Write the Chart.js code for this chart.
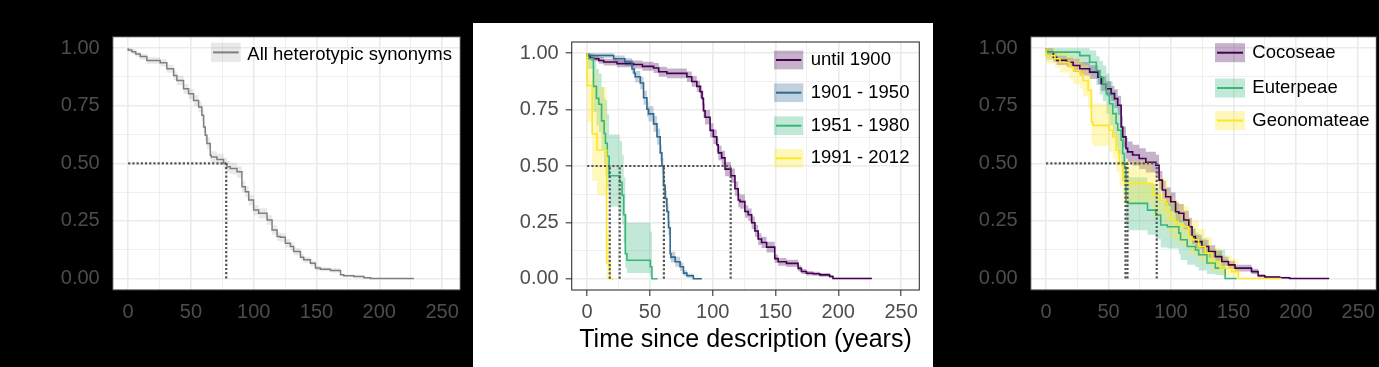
<!DOCTYPE html>
<html>
<head>
<meta charset="utf-8">
<script src="https://cdn.jsdelivr.net/npm/chart.js@4.4.1/dist/chart.umd.min.js"></script>
<style>
  html, body { margin: 0; padding: 0; background: #000; }
  body { width: 1379px; height: 367px; position: relative; overflow: hidden; }
  canvas { position: absolute; }
  #panelA { left: 0; top: 0; }
  #panelB { left: 473px; top: 23px; background: #fff; }
  #panelC { left: 935px; top: 0; }
</style>
</head>
<body>
<canvas id="panelA" width="470" height="367"></canvas>
<canvas id="panelB" width="460" height="344"></canvas>
<canvas id="panelC" width="444" height="367"></canvas>
<script>
Chart.defaults.font.family = "'Liberation Sans', Arial, sans-serif";

// axes
const xTicks = [0, 50, 100, 150, 200, 250];
const xMinor = [25, 75, 125, 175, 225];
const yTicks = [0, 0.25, 0.5, 0.75, 1];
const yMinor = [0.125, 0.375, 0.625, 0.875];
const xTitle = 'Time since description (years)';

// panel A - all synonyms
const allLabel = 'All heterotypic synonyms';
const allTime = [0, 3, 6, 9.6, 14.9, 25.5, 30.8, 36.2, 38.8, 44.1, 48.1, 52.1, 56.1, 58.7, 60.1, 61.4, 62.7, 65.4, 66.2, 70.7, 76.0, 78.7, 81.3, 86.7, 90.6, 93.3, 96.0, 99.9, 103.9, 110.6, 114.6, 118.6, 121.2, 125.2, 129.2, 131.8, 137.2, 139.8, 145.1, 149.1, 153.1, 161.1, 169.1, 171.7, 179.7, 187.7, 193.0, 201.0, 227.5];
const allSurv = [1, 0.992, 0.985, 0.975, 0.964, 0.947, 0.937, 0.911, 0.882, 0.860, 0.824, 0.802, 0.773, 0.745, 0.709, 0.658, 0.622, 0.586, 0.535, 0.528, 0.517, 0.499, 0.485, 0.478, 0.463, 0.398, 0.377, 0.341, 0.297, 0.283, 0.254, 0.211, 0.182, 0.179, 0.153, 0.139, 0.117, 0.092, 0.081, 0.066, 0.045, 0.040, 0.035, 0.016, 0.012, 0.009, 0.003, 0, 0];
const allLow = [1, 0.984, 0.975, 0.963, 0.950, 0.932, 0.921, 0.893, 0.862, 0.839, 0.802, 0.779, 0.750, 0.721, 0.684, 0.633, 0.597, 0.561, 0.510, 0.503, 0.492, 0.474, 0.460, 0.453, 0.438, 0.374, 0.353, 0.318, 0.275, 0.261, 0.233, 0.191, 0.163, 0.160, 0.135, 0.122, 0.101, 0.078, 0.068, 0.054, 0.035, 0.031, 0.026, 0.010, 0.007, 0.004, 0, 0, 0];
const allHigh = [1, 1, 0.995, 0.985, 0.976, 0.961, 0.952, 0.928, 0.901, 0.880, 0.845, 0.824, 0.796, 0.768, 0.733, 0.683, 0.647, 0.611, 0.560, 0.553, 0.542, 0.524, 0.510, 0.503, 0.488, 0.422, 0.401, 0.364, 0.319, 0.305, 0.275, 0.231, 0.201, 0.198, 0.171, 0.156, 0.133, 0.106, 0.094, 0.078, 0.055, 0.049, 0.044, 0.022, 0.017, 0.014, 0.006, 0, 0];
const allMedians = [78.1];

// panel B - by description period
const periodLabels = ['until 1900', '1901 - 1950', '1951 - 1980', '1991 - 2012'];
const p1Time = [0, 2.5, 5, 9.3, 13.2, 23.8, 37, 44, 52.9, 57, 63.5, 79.4, 83.3, 87.3, 89.9, 91.5, 92.6, 93.9, 97.9, 100.5, 103.2, 104.4, 107.1, 109.8, 114.5, 117.7, 120.3, 121.7, 125.6, 128.3, 131, 133.6, 136.2, 138.9, 142.9, 149.4, 152.1, 158.7, 168, 170.6, 174.6, 179.9, 185.2, 193.1, 195.8, 199.7, 226.7];
const p1Surv = [1, 0.990, 0.978, 0.976, 0.968, 0.961, 0.954, 0.950, 0.942, 0.935, 0.918, 0.911, 0.896, 0.875, 0.853, 0.830, 0.800, 0.745, 0.716, 0.658, 0.630, 0.594, 0.558, 0.536, 0.486, 0.457, 0.399, 0.349, 0.342, 0.298, 0.284, 0.248, 0.212, 0.176, 0.161, 0.140, 0.089, 0.075, 0.068, 0.046, 0.032, 0.024, 0.022, 0.017, 0.010, 0.001, 0.001];
const p1Low = [1, 0.980, 0.966, 0.963, 0.954, 0.946, 0.938, 0.932, 0.922, 0.913, 0.896, 0.889, 0.873, 0.851, 0.828, 0.801, 0.769, 0.713, 0.684, 0.626, 0.598, 0.562, 0.526, 0.504, 0.454, 0.425, 0.367, 0.317, 0.310, 0.270, 0.256, 0.220, 0.185, 0.150, 0.136, 0.116, 0.071, 0.058, 0.052, 0.033, 0.021, 0.014, 0.013, 0.009, 0.004, 0, 0];
const p1High = [1, 1, 0.990, 0.989, 0.982, 0.976, 0.970, 0.968, 0.962, 0.957, 0.940, 0.933, 0.919, 0.899, 0.878, 0.859, 0.831, 0.777, 0.748, 0.690, 0.662, 0.626, 0.590, 0.568, 0.518, 0.489, 0.431, 0.381, 0.374, 0.326, 0.312, 0.276, 0.239, 0.202, 0.186, 0.164, 0.107, 0.092, 0.084, 0.059, 0.043, 0.034, 0.031, 0.025, 0.016, 0.004, 0.004];

const p2Time = [0, 21.1, 30, 35.7, 37.5, 38.3, 42.3, 44.9, 47.6, 48.9, 52.9, 55.6, 58.2, 59.5, 60.8, 62.1, 63.5, 64.8, 66.1, 66.7, 70.1, 74.0, 76.7, 79.4, 84.6, 91.3];
const p2Surv = [1, 0.990, 0.976, 0.961, 0.930, 0.911, 0.896, 0.868, 0.803, 0.752, 0.731, 0.687, 0.630, 0.558, 0.500, 0.414, 0.356, 0.298, 0.226, 0.111, 0.096, 0.075, 0.053, 0.025, 0.013, 0];
const p2Low = [1, 0.980, 0.962, 0.944, 0.909, 0.888, 0.871, 0.840, 0.772, 0.719, 0.697, 0.652, 0.594, 0.522, 0.464, 0.378, 0.321, 0.264, 0.194, 0.085, 0.072, 0.053, 0.034, 0.012, 0.004, 0];
const p2High = [1, 1, 0.990, 0.978, 0.951, 0.934, 0.921, 0.896, 0.834, 0.785, 0.765, 0.722, 0.666, 0.594, 0.536, 0.450, 0.391, 0.332, 0.258, 0.137, 0.120, 0.097, 0.072, 0.038, 0.022, 0];

const p3Time = [0, 5, 7.4, 9.3, 11.5, 13.5, 14.6, 16, 17.5, 25.9, 27.8, 29.1, 30.4, 31.7, 50.3, 51.6, 56.1];
const p3Surv = [1, 0.976, 0.853, 0.80, 0.774, 0.70, 0.644, 0.601, 0.543, 0.457, 0.428, 0.37, 0.284, 0.111, 0.082, 0.053, 0];
const p3Low = [1, 0.93, 0.74, 0.68, 0.65, 0.57, 0.51, 0.46, 0.40, 0.32, 0.29, 0.24, 0.16, 0.046, 0.025, 0.01, 0];
const p3High = [1, 1, 0.96, 0.93, 0.91, 0.85, 0.80, 0.79, 0.73, 0.64, 0.61, 0.55, 0.45, 0.284, 0.248, 0.21, 0];

const p4Time = [0, 4, 7.8, 15.5, 18.0, 21.0];
const p4Surv = [1, 0.857, 0.643, 0.571, 0.071, 0];
const p4Low = [1, 0.695, 0.435, 0.37, 0, 0];
const p4High = [1, 0.99, 0.92, 0.85, 0.2, 0];

const periodMedians = [18.0, 25.9, 61.1, 114.3];

// panel C - by tribe
const tribeLabels = ['Cocoseae', 'Euterpeae', 'Geonomateae'];
const cocTime = [0, 5.8, 8.5, 16.4, 21.7, 27, 34.9, 41.5, 44.2, 48.2, 52.1, 54.8, 57.4, 60.1, 61.4, 64.0, 65.3, 69.3, 74.6, 79.9, 87.9, 90.5, 93.1, 95.8, 99.8, 103.7, 106.3, 110.3, 114.3, 116.9, 119.6, 124.8, 130.2, 135.5, 140.7, 146, 151.3, 164.5, 169.8, 175.2, 187, 195, 200, 226.7];
const cocSurv = [1, 0.983, 0.961, 0.947, 0.939, 0.925, 0.911, 0.896, 0.874, 0.846, 0.824, 0.803, 0.781, 0.752, 0.658, 0.615, 0.565, 0.550, 0.536, 0.521, 0.505, 0.492, 0.427, 0.384, 0.355, 0.333, 0.290, 0.283, 0.254, 0.225, 0.182, 0.160, 0.139, 0.117, 0.095, 0.074, 0.059, 0.045, 0.030, 0.012, 0.006, 0.003, 0, 0];
const cocLow = [1, 0.966, 0.941, 0.927, 0.919, 0.897, 0.882, 0.866, 0.843, 0.814, 0.791, 0.770, 0.740, 0.710, 0.613, 0.570, 0.520, 0.505, 0.491, 0.476, 0.460, 0.447, 0.387, 0.344, 0.315, 0.293, 0.250, 0.243, 0.214, 0.187, 0.150, 0.130, 0.110, 0.090, 0.070, 0.054, 0.042, 0.030, 0.018, 0.004, 0.001, 0, 0, 0];
const cocHigh = [1, 1, 0.981, 0.967, 0.959, 0.953, 0.940, 0.926, 0.905, 0.878, 0.857, 0.836, 0.822, 0.794, 0.703, 0.660, 0.610, 0.595, 0.581, 0.566, 0.550, 0.537, 0.467, 0.424, 0.395, 0.373, 0.330, 0.323, 0.294, 0.263, 0.214, 0.190, 0.168, 0.144, 0.120, 0.094, 0.076, 0.060, 0.042, 0.020, 0.011, 0.007, 0, 0];

const eutTime = [0, 27, 34.9, 40.2, 42.9, 45.5, 48.2, 50.8, 53.4, 56.1, 57.4, 60.1, 61.4, 62.7, 64.0, 65.3, 81.2, 87.9, 91.8, 97.1, 106.3, 107.7, 113, 119.6, 122.2, 128.8, 135.5, 143.4, 152.6];
const eutSurv = [1, 0.983, 0.968, 0.939, 0.903, 0.874, 0.846, 0.803, 0.759, 0.716, 0.673, 0.644, 0.600, 0.543, 0.485, 0.333, 0.326, 0.297, 0.276, 0.232, 0.225, 0.197, 0.168, 0.139, 0.124, 0.103, 0.067, 0.045, 0];
const eutLow = [1, 0.95, 0.925, 0.885, 0.84, 0.80, 0.77, 0.715, 0.665, 0.62, 0.57, 0.54, 0.49, 0.43, 0.37, 0.22, 0.21, 0.19, 0.17, 0.135, 0.13, 0.105, 0.08, 0.06, 0.05, 0.035, 0.02, 0.015, 0];
const eutHigh = [1, 1, 1, 0.99, 0.965, 0.945, 0.925, 0.89, 0.855, 0.815, 0.775, 0.75, 0.71, 0.655, 0.60, 0.45, 0.44, 0.41, 0.385, 0.335, 0.325, 0.29, 0.255, 0.22, 0.20, 0.175, 0.13, 0.125, 0];

const geoTime = [0, 7.1, 11.1, 19, 21.7, 27, 29.6, 33.6, 36.3, 37.5, 50.5, 53.4, 56, 58.7, 61.4, 63.5, 85.2, 91.5, 95, 97.1, 99.8, 103, 105, 110.3, 114.3, 116.9, 122.2, 127.5, 132.8, 139.4, 148.7, 154, 188.4];
const geoSurv = [1, 0.968, 0.954, 0.939, 0.918, 0.903, 0.889, 0.860, 0.817, 0.680, 0.665, 0.644, 0.615, 0.557, 0.500, 0.427, 0.413, 0.362, 0.34, 0.326, 0.29, 0.26, 0.247, 0.232, 0.225, 0.182, 0.168, 0.139, 0.110, 0.074, 0.045, 0.030, 0];
const geoLow = [1, 0.935, 0.915, 0.895, 0.865, 0.845, 0.825, 0.79, 0.74, 0.59, 0.575, 0.55, 0.52, 0.46, 0.40, 0.33, 0.32, 0.27, 0.25, 0.235, 0.20, 0.175, 0.165, 0.15, 0.145, 0.11, 0.10, 0.075, 0.055, 0.03, 0.012, 0.005, 0];
const geoHigh = [1, 1, 0.99, 0.985, 0.97, 0.96, 0.953, 0.93, 0.895, 0.775, 0.76, 0.74, 0.715, 0.66, 0.60, 0.525, 0.51, 0.46, 0.44, 0.425, 0.385, 0.355, 0.34, 0.325, 0.315, 0.265, 0.25, 0.215, 0.18, 0.135, 0.10, 0.085, 0];

const tribeMedians = [63.6, 65.2, 88.6];

const seriesA = [
  {label: allLabel, color: '#7F7F7F', fill: 'rgba(127,127,127,0.17)', width: 1.5, t: allTime, s: allSurv, lo: allLow, hi: allHigh}
];
const seriesB = [
  {label: periodLabels[0], color: '#440154', fill: 'rgba(68,1,84,0.3)', t: p1Time, s: p1Surv, lo: p1Low, hi: p1High},
  {label: periodLabels[1], color: '#31688E', fill: 'rgba(49,104,142,0.3)', t: p2Time, s: p2Surv, lo: p2Low, hi: p2High},
  {label: periodLabels[2], color: '#35B779', fill: 'rgba(53,183,121,0.3)', t: p3Time, s: p3Surv, lo: p3Low, hi: p3High},
  {label: periodLabels[3], color: '#FDE725', fill: 'rgba(253,231,37,0.3)', t: p4Time, s: p4Surv, lo: p4Low, hi: p4High}
];
const seriesC = [
  {label: tribeLabels[0], color: '#440154', fill: 'rgba(68,1,84,0.3)', t: cocTime, s: cocSurv, lo: cocLow, hi: cocHigh},
  {label: tribeLabels[1], color: '#35B779', fill: 'rgba(53,183,121,0.3)', t: eutTime, s: eutSurv, lo: eutLow, hi: eutHigh},
  {label: tribeLabels[2], color: '#FDE725', fill: 'rgba(253,231,37,0.3)', t: geoTime, s: geoSurv, lo: geoLow, hi: geoHigh}
];

function steps(t, v) {
  return t.map((x, i) => ({x: x, y: v[i]}));
}

// white panel, frame and legend keys drawn inside the plot area
function panelPlugin(items, leg) {
  return {
    id: 'panel',
    beforeDraw(chart) {
      const a = chart.chartArea, ctx = chart.ctx;
      ctx.save();
      ctx.fillStyle = '#fff';
      ctx.fillRect(a.left, a.top, a.right - a.left, a.bottom - a.top);
      ctx.restore();
    },
    afterDraw(chart) {
      const a = chart.chartArea, ctx = chart.ctx;
      ctx.save();
      ctx.strokeStyle = '#333333';
      ctx.lineWidth = 1.1;
      ctx.strokeRect(a.left, a.top, a.right - a.left, a.bottom - a.top);
      items.forEach((it, i) => {
        const cy = leg.rowY[i];
        ctx.fillStyle = it.fill;
        ctx.fillRect(leg.keyX, cy - leg.keyH / 2, leg.keyW, leg.keyH);
        ctx.strokeStyle = it.color;
        ctx.lineWidth = 2;
        ctx.beginPath();
        ctx.moveTo(leg.keyX + 2, cy);
        ctx.lineTo(leg.keyX + leg.keyW - 2, cy);
        ctx.stroke();
        ctx.fillStyle = '#000';
        ctx.font = "18.5px 'Liberation Sans', Arial, sans-serif";
        ctx.textAlign = 'left';
        ctx.textBaseline = 'middle';
        ctx.fillText(it.label, leg.textX, cy + leg.textDy);
      });
      ctx.restore();
    }
  };
}

function makePanel(id, geo, series, medians, leg, tickCol, showTitle) {
  const datasets = [];
  const guide = {borderColor: '#555555', borderWidth: 2.2, borderDash: [2.2, 2], borderCapStyle: 'butt', order: 0};
  datasets.push(Object.assign({data: [{x: 0, y: 0.5}, {x: Math.max(...medians), y: 0.5}]}, guide));
  medians.forEach(m => datasets.push(Object.assign({data: [{x: m, y: 0}, {x: m, y: 0.5}]}, guide)));
  series.forEach((s, i) => datasets.push({
    data: steps(s.t, s.s), borderColor: s.color, borderWidth: s.width || 1.6, stepped: 'after', order: 10 - i
  }));
  series.forEach((s, i) => {
    datasets.push({data: steps(s.t, s.hi), borderColor: 'rgba(0,0,0,0)', borderWidth: 0, stepped: 'after', fill: false, order: 30 - 2 * i});
    datasets.push({data: steps(s.t, s.lo), borderColor: 'rgba(0,0,0,0)', borderWidth: 0, stepped: 'after', fill: '-1', backgroundColor: s.fill, order: 29 - 2 * i});
  });

  const majX = v => xTicks.includes(v);
  const majY = v => yTicks.includes(v);
  const gridOpts = (isMaj) => ({
    color: '#EBEBEB',
    lineWidth: c => (c.tick && isMaj(c.tick.value)) ? 1.6 : 0.8,
    drawTicks: true,
    tickLength: 6,
    tickWidth: 1.1,
    tickColor: c => (c.tick && isMaj(c.tick.value)) ? tickCol : 'rgba(0,0,0,0)'
  });

  return new Chart(document.getElementById(id), {
    type: 'line',
    data: {datasets: datasets},
    options: {
      responsive: false,
      animation: false,
      events: [],
      layout: {padding: {left: 0, top: geo.top, right: geo.w - geo.right, bottom: 0}},
      elements: {point: {radius: 0}, line: {tension: 0}},
      plugins: {legend: {display: false}, tooltip: {enabled: false}},
      scales: {
        x: {
          type: 'linear', min: -12.3, max: 264.5,
          afterBuildTicks: sc => { sc.ticks = xTicks.concat(xMinor).sort((a, b) => a - b).map(v => ({value: v})); },
          afterFit: sc => { sc.height = geo.h - geo.bottom; },
          border: {display: false},
          grid: gridOpts(majX),
          ticks: {autoSkip: false, maxRotation: 0, padding: 4, color: '#4D4D4D', font: {size: 20},
                  callback: v => majX(v) ? String(v) : ''},
          title: {display: showTitle, text: xTitle, color: '#000', font: {size: 25}, padding: {top: 0, bottom: 12}}
        },
        y: {
          type: 'linear', min: -0.05, max: 1.05,
          afterBuildTicks: sc => { sc.ticks = yTicks.concat(yMinor).sort((a, b) => a - b).map(v => ({value: v})); },
          afterFit: sc => { sc.width = geo.left; },
          border: {display: false},
          grid: gridOpts(majY),
          ticks: {autoSkip: false, padding: 7, color: '#4D4D4D', font: {size: 20},
                  callback: v => majY(v) ? v.toFixed(2) : ''}
        }
      }
    },
    plugins: [panelPlugin(series, leg)]
  });
}

makePanel('panelA', {w: 470, h: 367, left: 112.7, right: 460.3, top: 36.7, bottom: 290}, seriesA, allMedians,
  {keyX: 211, keyW: 29.7, keyH: 19.3, textX: 247.3, rowY: [52.4], textDy: 2.5}, '#000', false);
makePanel('panelB', {w: 460, h: 344, left: 98.7, right: 446.3, top: 13.3, bottom: 267}, seriesB, periodMedians,
  {keyX: 301, keyW: 29.3, keyH: 18.7, textX: 337.7, rowY: [37, 69.7, 102.7, 135.3], textDy: 0}, '#333333', true);
makePanel('panelC', {w: 444, h: 367, left: 95.7, right: 443.3, top: 36.7, bottom: 290}, seriesC, tribeMedians,
  {keyX: 280, keyW: 30, keyH: 19, textX: 317.3, rowY: [52.7, 88, 120.5], textDy: 0}, '#000', false);
</script>
</body>
</html>
